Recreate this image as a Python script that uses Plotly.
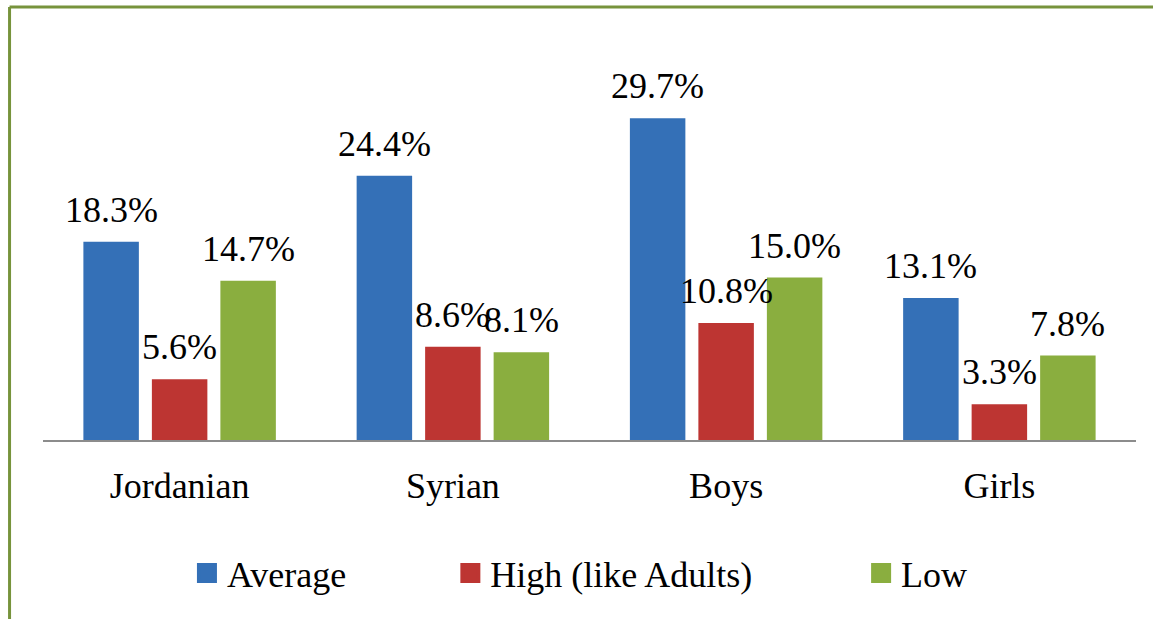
import plotly.graph_objects as go

# data (percent)
categories = ["Jordanian", "Syrian", "Boys", "Girls"]
average = [18.3, 24.4, 29.7, 13.1]
high = [5.6, 8.6, 10.8, 3.3]
low = [14.7, 8.1, 15.0, 7.8]
series_names = ["Average", "High (like Adults)", "Low"]

colors = ["#3470B7", "#BD3532", "#8AAE3F"]
font_family = "Liberation Serif, Times New Roman, serif"

fig = go.Figure()

series = [average, high, low]
slot_px = 68.5  # distance between bar centres inside a group

for i, (name, vals, col) in enumerate(zip(series_names, series, colors)):
    fig.add_trace(go.Bar(
        x=categories, y=vals, name=name,
        marker=dict(color=col, line=dict(width=0)),
        showlegend=False,
        hoverinfo="skip",
    ))
    # value labels sit a bit higher above the bars than plotly's own outside text
    for cat, v in zip(categories, vals):
        fig.add_annotation(
            x=cat, y=v, text=f"{v:.1f}%", showarrow=False,
            xanchor="center", yanchor="bottom",
            xshift=(i - 1) * slot_px, yshift=10,
            font=dict(family=font_family, size=36, color="black"),
        )

# legend entries with bigger square symbols, one legend each so spacing matches
legend_ids = ["legend", "legend2", "legend3"]
for name, col, lid in zip(series_names, colors, legend_ids):
    fig.add_trace(go.Scatter(
        x=[None], y=[None], mode="markers", name=name,
        marker=dict(symbol="square", size=16, color=col, line=dict(width=4, color=col)),
        legend=lid, showlegend=True,
    ))

leg_style = dict(
    orientation="h", yanchor="middle", y=-0.3325, xanchor="left",
    font=dict(family=font_family, size=36, color="black"),
    bgcolor="rgba(0,0,0,0)", borderwidth=0,
)

fig.update_layout(
    width=1153, height=619,
    margin=dict(l=42.5, r=17, t=40, b=179),
    paper_bgcolor="white", plot_bgcolor="white",
    barmode="group", bargap=0.248, bargroupgap=0.19,
    legend=dict(x=0.1317, **leg_style),
    legend2=dict(x=0.3727, **leg_style),
    legend3=dict(x=0.7485, **leg_style),
    font=dict(family=font_family, size=36, color="black"),
)

fig.update_xaxes(
    showline=True, linecolor="#8C8C8C", linewidth=2,
    showgrid=False, zeroline=False, ticks="",
    ticklabelstandoff=13,
    tickfont=dict(family=font_family, size=36, color="black"),
    fixedrange=True,
)
fig.update_yaxes(visible=False, range=[0, 36.93], fixedrange=True)

# green frame (top and left edges visible in the reference)
border = dict(color="#77933C", width=3)
fig.add_shape(type="line", xref="paper", yref="paper",
              x0=-0.0306, x1=1.2, y0=1.0825, y1=1.0825, line=border)
fig.add_shape(type="line", xref="paper", yref="paper",
              x0=-0.0306, x1=-0.0306, y0=1.0825, y1=-0.6, line=border)

# drop the default page margin so the figure sits at the window's corner
fig.write_html("out.html", config=dict(displayModeBar=False),
               post_script="document.body.style.margin='0';")
